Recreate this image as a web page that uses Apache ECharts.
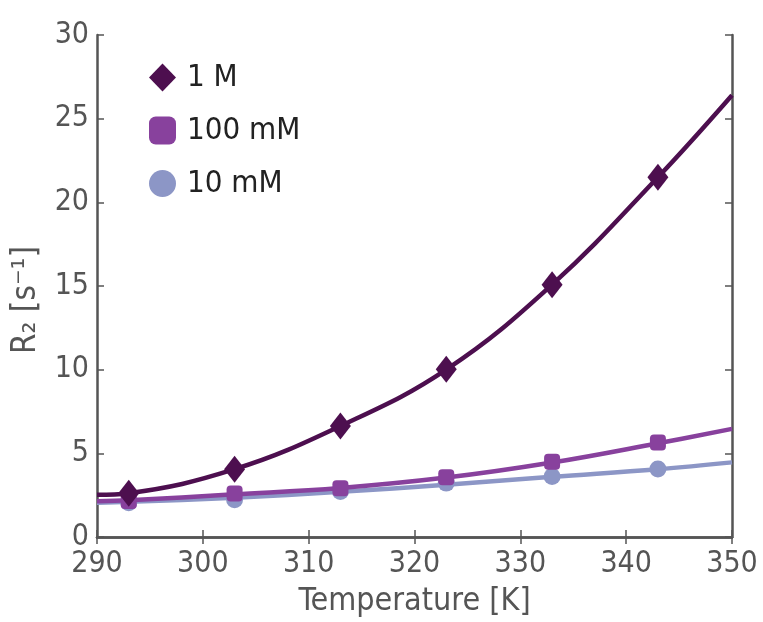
<!DOCTYPE html>
<html>
<head>
<meta charset="utf-8">
<script src="https://cdn.jsdelivr.net/npm/echarts@6/dist/echarts.min.js"></script>
<style>html,body{margin:0;padding:0;background:#fff}#c{width:763px;height:622px}</style>
</head>
<body>
<div id="c"></div>
<script>
// Measured temperatures [K]
const temps = [293, 303, 313, 323, 333, 343];
// Measured R2 [s^-1]
const r2_1M = [2.62, 4.05, 6.63, 10.02, 15.08, 21.5];
const r2_100mM = [2.15, 2.6, 2.91, 3.57, 4.5, 5.65];
const r2_10mM = [2.04, 2.22, 2.72, 3.22, 3.62, 4.06];
// Fit curves
const fitT = [290, 293, 303, 313, 323, 333, 343, 350];
const fit_1M = [2.52, 2.62, 4.05, 6.63, 10.0, 15.08, 21.5, 26.4];
const fit_100mM = [2.14, 2.2, 2.55, 2.93, 3.55, 4.45, 5.6, 6.46];
const fit_10mM = [2.05, 2.1, 2.35, 2.7, 3.12, 3.6, 4.05, 4.46];
const xTicks = [290, 300, 310, 320, 330, 340, 350];
const yTicks = [0, 5, 10, 15, 20, 25, 30];

const names = ['1 M', '100 mM', '10 mM'];
const colors = ['#4d0f4f', '#88419d', '#8c96c6'];
const symbols = ['diamond', 'roundRect', 'circle'];
const symSizes = [[21, 27], 16, 17];
const meas = [r2_1M, r2_100mM, r2_10mM];
const fits = [fit_1M, fit_100mM, fit_10mM];

const pair = (xs, ys) => xs.map((x, i) => [x, ys[i]]);
const series = [];
[2, 1, 0].forEach(i => {
  series.push({
    type: 'line', name: names[i] + ' fit', data: pair(fitT, fits[i]),
    smooth: 0.4, showSymbol: false, symbol: 'none',
    lineStyle: { color: colors[i], width: 4.5 }, z: 2 + (2 - i) * 2, silent: true
  });
  series.push({
    type: 'scatter', name: names[i], data: pair(temps, meas[i]),
    symbol: symbols[i], symbolSize: symSizes[i],
    itemStyle: { color: colors[i], opacity: 1 }, z: 3 + (2 - i) * 2
  });
});

const axisCol = '#555';
const labelFont = '"DejaVu Sans Condensed", Roboto, sans-serif';
const chart = echarts.init(document.getElementById('c'), null, { renderer: 'canvas' });
chart.setOption({
  animation: false,
  backgroundColor: '#fff',
  grid: { left: 97, right: 31, top: 35, bottom: 85, containLabel: false, outerBoundsMode: 'none' },
  legend: {
    data: [
      { name: '1 M', icon: 'diamond', itemStyle: { color: colors[0] } },
      { name: '100 mM', icon: 'roundRect', itemStyle: { color: colors[1] } },
      { name: '10 mM', icon: 'circle', itemStyle: { color: colors[2] } }
    ],
    orient: 'vertical', left: 144, top: 57,
    itemWidth: 27, itemHeight: 28, itemGap: 22,
    textStyle: { fontSize: 31, color: '#222', fontFamily: labelFont, padding: [0, 0, 0, 6] }
  },
  xAxis: [{
    type: 'value', min: 290, max: 350, interval: 10,
    name: 'Temperature [K]', nameLocation: 'middle', nameGap: 49,
    nameTextStyle: { fontSize: 32, color: axisCol, fontFamily: labelFont },
    axisLine: { lineStyle: { color: axisCol, width: 2.5 } },
    axisTick: { inside: true, length: 7, lineStyle: { color: axisCol, width: 1.5 } },
    axisLabel: { fontSize: 30, color: axisCol, margin: 12, fontFamily: labelFont },
    splitLine: { show: false }
  }, {
    type: 'value', min: 290, max: 350, interval: 10, position: 'top',
    axisLine: { show: true, lineStyle: { color: axisCol, width: 2.5 } },
    axisTick: { show: true, inside: true, length: 7, lineStyle: { color: axisCol, width: 1.5 } },
    axisLabel: { show: false }, splitLine: { show: false }
  }],
  yAxis: [{
    type: 'value', min: 0, max: 30, interval: 5,
    name: 'R\u2082 [s\u207B\u00B9]', nameLocation: 'middle', nameGap: 54, nameRotate: 90,
    nameTextStyle: { fontSize: 33, color: axisCol, fontFamily: labelFont, padding: [0, 28, 0, 0] },
    axisLine: { show: true, lineStyle: { color: axisCol, width: 2.5 } },
    axisTick: { show: true, inside: true, length: 7, lineStyle: { color: axisCol, width: 1.5 } },
    axisLabel: { fontSize: 30, color: axisCol, margin: 8, fontFamily: labelFont },
    splitLine: { show: false }
  }, {
    type: 'value', min: 0, max: 30, interval: 5, position: 'right',
    axisLine: { show: true, lineStyle: { color: axisCol, width: 2.5 } },
    axisTick: { show: true, inside: true, length: 7, lineStyle: { color: axisCol, width: 1.5 } },
    axisLabel: { show: false }, splitLine: { show: false }
  }],
  series: series
});
</script>
</body>
</html>
